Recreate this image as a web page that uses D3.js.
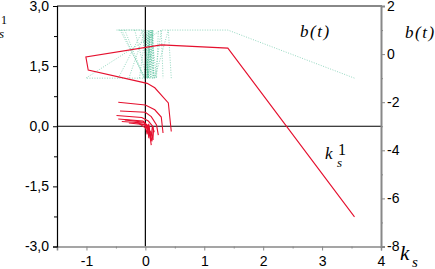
<!DOCTYPE html>
<html><head><meta charset="utf-8">
<script src="https://cdn.jsdelivr.net/npm/d3@7"></script>
<style>
html,body{margin:0;padding:0;background:#fff;overflow:hidden}
svg{display:block}
.tick text{font-family:"Liberation Sans",Arial,sans-serif;font-size:14px;fill:#000}
</style></head>
<body>
<svg id="chart" width="435" height="269"></svg>
<script>
// ---- data ----
const xTicks = [-1, 0, 1, 2, 3, 4];
const yLeftTicks = [-3, -1.5, 0, 1.5, 3];
const yLeftLabels = ["-3,0", "-1,5", "0,0", "1,5", "3,0"];
const yRightTicks = [-8, -6, -4, -2, 0, 2];

// k_s values of each trajectory
const ksA = [0.44, 0.39, 0.16, 0.03, -0.97, -1.01, 0.27, 1.40, 3.55];
const ksB = [-0.46, 0.00, 0.16, 0.27, 0.30];
const ksC = [-0.43, 0.00, 0.10, 0.19, 0.22];
const ksD = [-0.49, -0.06, 0.05, 0.13, 0.13];
const ksE = [-0.46, -0.04, 0.05, 0.08];
const ksF = [-0.40, -0.02, 0.06, 0.10];
const ksG = [-0.28, 0.00, 0.04, 0.06];
const ksH = [-0.18, 0.02, 0.09, 0.12];
const ksI = [0.00, 0.03, 0.06, 0.09, 0.12, 0.15];
const ksJ = [-0.35, -0.02, 0.03, 0.07];
const ksK = [-0.10, 0.01, 0.05, 0.11, 0.14];
// k_s^1 values (left axis)
const k1A = [-0.13, 0.58, 0.96, 1.07, 1.40, 1.73, 2.03, 1.95, -2.26];
const k1B = [0.60, 0.53, 0.41, 0.23, -0.17];
const k1C = [0.38, 0.35, 0.24, 0.03, -0.22];
const k1D = [0.27, 0.22, 0.13, -0.01, -0.34];
const k1E = [0.18, 0.13, 0.00, -0.22];
const k1F = [0.12, 0.08, -0.05, -0.47];
const k1G = [0.08, 0.04, -0.08, -0.30];
const k1H = [0.10, 0.02, -0.15, -0.25];
const k1I = [0.02, -0.20, 0.05, -0.35, 0.00, -0.15];
const k1J = [0.16, 0.10, -0.02, -0.25];
const k1K = [0.06, -0.05, 0.04, -0.38, -0.10];
// b(t) values (right axis)
const bA = [-1, 1, -1, -1, -1, -1, 1, 1, -1];
const bB = [1, 1, -1, 1, -1];
const bC = [1, -1, 1, -1, 1];
const bD = [1, 1, -1, 1, -1];
const bE = [-1, 1, -1, 1];
const bF = [1, -1, 1, -1];
const bG = [-1, 1, -1, 1];
const bH = [1, -1, 1, -1];
const bI = [1, -1, 1, -1, 1, -1];
const bJ = [1, -1, 1, -1];
const bK = [-1, 1, -1, 1, -1];

const ksAll = [ksA, ksB, ksC, ksD, ksE, ksF, ksG, ksH, ksI, ksJ, ksK];
const k1All = [k1A, k1B, k1C, k1D, k1E, k1F, k1G, k1H, k1I, k1J, k1K];
const bAll  = [bA, bB, bC, bD, bE, bF, bG, bH, bI, bJ, bK];

// ---- layout ----
const L = 57, R = 381, T = 6, B = 246.5;
const x = d3.scaleLinear([-1.5, 4], [L, R]);
const yL = d3.scaleLinear([-3, 3], [B, T]);
const yR = d3.scaleLinear([-8, 2], [B, T]);

const svg = d3.select("#chart");

// b(t) dotted lines
const lineB = d3.line().x(d => x(d[0])).y(d => yR(d[1]));
ksAll.forEach((ks, i) => {
  const pts = ks.map((k, j) => [k, bAll[i][j]]);
  svg.append("path").attr("d", lineB(pts)).attr("fill", "none")
    .attr("stroke", "#3db68c").attr("stroke-opacity", 0.55)
    .attr("stroke-width", 1).attr("stroke-dasharray", "1,1.5");
});

// zero lines
svg.append("line").attr("x1", L).attr("x2", R).attr("y1", yL(0)).attr("y2", yL(0))
  .attr("stroke", "#000").attr("stroke-width", 1.2);
svg.append("line").attr("x1", x(0)).attr("x2", x(0)).attr("y1", T).attr("y2", B)
  .attr("stroke", "#000").attr("stroke-width", 1.2);

// k_s^1 red lines
const lineK = d3.line().x(d => x(d[0])).y(d => yL(d[1]));
ksAll.forEach((ks, i) => {
  const pts = ks.map((k, j) => [k, k1All[i][j]]);
  svg.append("path").attr("d", lineK(pts)).attr("fill", "none")
    .attr("stroke", "#e5102e").attr("stroke-width", 1.1);
});

// frame: top gray
svg.append("line").attr("x1", L).attr("x2", R + 1).attr("y1", T).attr("y2", T)
  .attr("stroke", "#888").attr("stroke-width", 2);

// bottom axis
const gx = svg.append("g").attr("transform", `translate(0,${B})`)
  .call(d3.axisBottom(x).tickValues(xTicks).tickSize(4).tickPadding(5).tickFormat(d => String(d)));
gx.select(".domain").attr("stroke", "#888").attr("stroke-width", 1.5);
gx.selectAll(".tick line").attr("stroke", "#888");
gx.selectAll(".tick text").attr("dy", "0.78em");
svg.append("g").attr("transform", `translate(0,${B})`)
  .call(d3.axisBottom(x).tickValues([-0.5, 0.5, 1.5, 2.5, 3.5]).tickSize(2).tickFormat(""))
  .call(g => g.select(".domain").remove())
  .selectAll(".tick line").attr("stroke", "#888");

// left axis
const gl = svg.append("g").attr("transform", `translate(${L},0)`)
  .call(d3.axisLeft(yL).tickValues(yLeftTicks).tickSize(4).tickPadding(4)
    .tickFormat((d, i) => yLeftLabels[i]));
gl.select(".domain").attr("stroke", "#000").attr("stroke-width", 1.2);
svg.append("g").attr("transform", `translate(${L},0)`)
  .call(d3.axisLeft(yL).tickValues([-2.25, -0.75, 0.75, 2.25]).tickSize(3).tickFormat(""))
  .call(g => g.select(".domain").remove());

// right axis
const gr = svg.append("g").attr("transform", `translate(${R},0)`)
  .call(d3.axisRight(yR).tickValues(yRightTicks).tickSize(4).tickPadding(2).tickFormat(d => String(d)));
gr.select(".domain").attr("stroke", "#888").attr("stroke-width", 2);
gr.selectAll(".tick line").attr("stroke", "#888");
svg.append("g").attr("transform", `translate(${R},0)`)
  .call(d3.axisRight(yR).tickValues([-7, -5, -3, -1, 1]).tickSize(2).tickFormat(""))
  .call(g => g.select(".domain").remove())
  .selectAll(".tick line").attr("stroke", "#888");

// titles
const serif = '"Liberation Serif","Times New Roman",serif';
function txt(xp, yp, s, size, italic) {
  return svg.append("text").attr("x", xp).attr("y", yp).text(s)
    .attr("font-family", serif).attr("font-size", size)
    .attr("font-style", italic ? "italic" : "normal").attr("fill", "#000");
}
// right axis title b(t)
txt(405, 38, "b(t)", 17, true).attr("letter-spacing", 1.5);
// inner b(t)
txt(300, 37, "b(t)", 17, true).attr("letter-spacing", 1.5);
// inner k_s^1
txt(325, 159, "k", 17, true);
txt(337, 167, "s", 13, true);
txt(338, 155, "1", 16, false);
// left axis title (partly cut off)
txt(-14, 32, "k", 17, true);
txt(-1, 38, "s", 13, true);
txt(1, 24, "1", 12, false);
// bottom right k_s
txt(400, 260, "k", 21, true);
txt(412, 267, "s", 15, true);
</script>
</body></html>
